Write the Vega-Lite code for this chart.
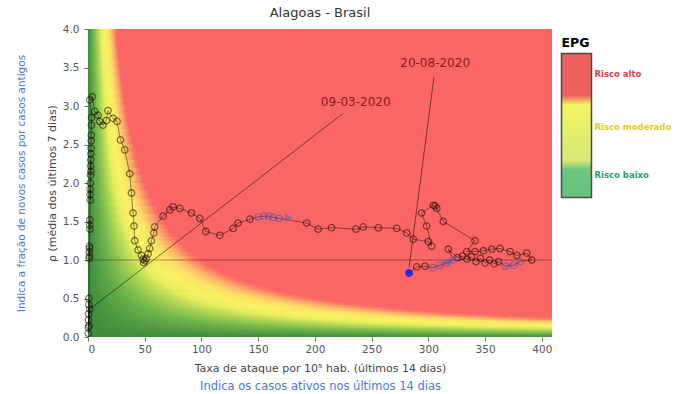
{
  "$schema": "https://vega.github.io/schema/vega-lite/v6.json",
  "width": 464,
  "height": 308,
  "autosize": {"type": "none"},
  "padding": {"left": 88, "top": 29, "right": 124, "bottom": 57},
  "title": {"text": "Alagoas - Brasil", "frame": "group", "anchor": "middle", "fontSize": 13, "fontWeight": "normal", "color": "#333333", "offset": 4, "font": "DejaVu Sans"},
  "config": {"font": "DejaVu Sans", "view": {"stroke": null, "fill": "#fa6565"}},
  "resolve": {"axis": {"x": "independent", "y": "independent"}},
  "datasets": {
    "bg": [
      {"lo":0.00,"hi":0.028,"xr":10000},{"lo":0.02,"hi":0.048,"xr":3333},{"lo":0.04,"hi":0.068,"xr":2000},{"lo":0.06,"hi":0.088,"xr":1429},
      {"lo":0.08,"hi":0.108,"xr":1111},{"lo":0.10,"hi":0.128,"xr":909.1},{"lo":0.12,"hi":0.148,"xr":769.2},{"lo":0.14,"hi":0.168,"xr":666.7},
      {"lo":0.16,"hi":0.188,"xr":588.2},{"lo":0.18,"hi":0.208,"xr":526.3},{"lo":0.20,"hi":0.228,"xr":476.2},{"lo":0.22,"hi":0.248,"xr":434.8},
      {"lo":0.24,"hi":0.268,"xr":400},{"lo":0.26,"hi":0.288,"xr":370.4},{"lo":0.28,"hi":0.308,"xr":344.8},{"lo":0.30,"hi":0.328,"xr":322.6},
      {"lo":0.32,"hi":0.348,"xr":303.0},{"lo":0.34,"hi":0.368,"xr":285.7},{"lo":0.36,"hi":0.388,"xr":270.3},{"lo":0.38,"hi":0.408,"xr":256.4},
      {"lo":0.40,"hi":0.428,"xr":243.9},{"lo":0.42,"hi":0.448,"xr":232.6},{"lo":0.44,"hi":0.468,"xr":222.2},{"lo":0.46,"hi":0.488,"xr":212.8},
      {"lo":0.48,"hi":0.508,"xr":204.1},
      {"lo":0.500,"hi":0.533,"xr":195.1},{"lo":0.525,"hi":0.558,"xr":186.0},{"lo":0.550,"hi":0.583,"xr":177.8},{"lo":0.575,"hi":0.608,"xr":170.2},
      {"lo":0.600,"hi":0.633,"xr":163.3},{"lo":0.625,"hi":0.658,"xr":156.9},{"lo":0.650,"hi":0.683,"xr":150.9},{"lo":0.675,"hi":0.708,"xr":145.5},
      {"lo":0.700,"hi":0.733,"xr":140.4},{"lo":0.725,"hi":0.758,"xr":135.6},{"lo":0.750,"hi":0.783,"xr":131.1},{"lo":0.775,"hi":0.808,"xr":127.0},
      {"lo":0.800,"hi":0.833,"xr":123.1},{"lo":0.825,"hi":0.858,"xr":119.4},{"lo":0.850,"hi":0.883,"xr":115.9},{"lo":0.875,"hi":0.908,"xr":112.7},
      {"lo":0.900,"hi":0.933,"xr":109.6},{"lo":0.925,"hi":0.958,"xr":106.7},{"lo":0.950,"hi":0.983,"xr":103.9},{"lo":0.975,"hi":1.008,"xr":101.3},
      {"lo":1.00,"hi":1.06,"xr":97.56},{"lo":1.05,"hi":1.11,"xr":93.02},{"lo":1.10,"hi":1.16,"xr":88.89},{"lo":1.15,"hi":1.21,"xr":85.11},
      {"lo":1.20,"hi":1.26,"xr":81.63},{"lo":1.25,"hi":1.31,"xr":78.43},{"lo":1.30,"hi":1.36,"xr":75.47},{"lo":1.35,"hi":1.41,"xr":72.73},
      {"lo":1.40,"hi":1.46,"xr":70.18},{"lo":1.45,"hi":1.51,"xr":67.80},
      {"lo":1.5,"hi":1.61,"xr":64.52},{"lo":1.6,"hi":1.71,"xr":60.61},{"lo":1.7,"hi":1.81,"xr":57.14},{"lo":1.8,"hi":1.91,"xr":54.05},
      {"lo":1.9,"hi":2.01,"xr":51.28},{"lo":2.0,"hi":2.11,"xr":48.78},{"lo":2.1,"hi":2.21,"xr":46.51},{"lo":2.2,"hi":2.31,"xr":44.44},
      {"lo":2.3,"hi":2.41,"xr":42.55},{"lo":2.4,"hi":2.51,"xr":40.82},{"lo":2.5,"hi":2.61,"xr":39.22},{"lo":2.6,"hi":2.71,"xr":37.74},
      {"lo":2.7,"hi":2.81,"xr":36.36},{"lo":2.8,"hi":2.91,"xr":35.09},{"lo":2.9,"hi":3.01,"xr":33.90},{"lo":3.0,"hi":3.11,"xr":32.79},
      {"lo":3.1,"hi":3.21,"xr":31.75},{"lo":3.2,"hi":3.31,"xr":30.77},{"lo":3.3,"hi":3.41,"xr":29.85},{"lo":3.4,"hi":3.51,"xr":28.99},
      {"lo":3.5,"hi":3.61,"xr":28.17},{"lo":3.6,"hi":3.71,"xr":27.40},{"lo":3.7,"hi":3.81,"xr":26.67},{"lo":3.8,"hi":3.91,"xr":25.97},
      {"lo":3.9,"hi":4.0,"xr":25.32}
    ],
    "traj": [
      {"i":1,"x":1.5,"y":0.36,"c":"k"},{"i":2,"x":0.3,"y":0.12,"c":"k"},{"i":3,"x":0.2,"y":0.05,"c":"k"},{"i":4,"x":0.4,"y":0.22,"c":"k"},
      {"i":5,"x":0.5,"y":0.30,"c":"k"},{"i":6,"x":0.7,"y":0.42,"c":"k"},{"i":7,"x":0.8,"y":0.50,"c":"k"},{"i":8,"x":0.9,"y":0.15,"c":"k"},
      {"i":9,"x":1.0,"y":1.02,"c":"k"},{"i":10,"x":1.1,"y":1.10,"c":"k"},{"i":11,"x":1.2,"y":1.18,"c":"k"},{"i":12,"x":1.3,"y":1.05,"c":"k"},
      {"i":13,"x":1.4,"y":1.15,"c":"k"},{"i":14,"x":1.5,"y":1.45,"c":"k"},{"i":15,"x":1.6,"y":1.52,"c":"k"},{"i":16,"x":1.7,"y":1.40,"c":"k"},
      {"i":17,"x":1.8,"y":1.85,"c":"k"},{"i":18,"x":1.9,"y":1.92,"c":"k"},{"i":19,"x":2.0,"y":1.78,"c":"k"},{"i":20,"x":2.1,"y":2.00,"c":"k"},
      {"i":21,"x":2.2,"y":2.10,"c":"k"},{"i":22,"x":2.3,"y":2.22,"c":"k"},{"i":23,"x":2.4,"y":2.30,"c":"k"},{"i":24,"x":2.5,"y":2.15,"c":"k"},
      {"i":25,"x":2.6,"y":2.38,"c":"k"},{"i":26,"x":2.7,"y":2.45,"c":"k"},{"i":27,"x":2.8,"y":2.55,"c":"k"},{"i":28,"x":2.9,"y":2.62,"c":"k"},
      {"i":29,"x":3.0,"y":2.75,"c":"k"},{"i":30,"x":3.1,"y":2.85,"c":"k"},{"i":31,"x":1.5,"y":3.08,"c":"k"},{"i":32,"x":3.9,"y":3.12,"c":"k"},
      {"i":33,"x":5.9,"y":2.93,"c":"k"},{"i":34,"x":8.8,"y":2.88,"c":"k"},{"i":35,"x":10.3,"y":2.80,"c":"k"},{"i":36,"x":13.2,"y":2.75,"c":"k"},
      {"i":37,"x":16.2,"y":2.81,"c":"k"},{"i":38,"x":17.6,"y":2.94,"c":"k"},{"i":39,"x":22.0,"y":2.84,"c":"k"},{"i":40,"x":25.6,"y":2.80,"c":"k"},
      {"i":41,"x":28.6,"y":2.56,"c":"k"},{"i":42,"x":32.4,"y":2.43,"c":"k"},{"i":43,"x":36.8,"y":2.12,"c":"k"},{"i":44,"x":38.3,"y":1.87,"c":"k"},
      {"i":45,"x":39.7,"y":1.61,"c":"k"},{"i":46,"x":40.6,"y":1.44,"c":"k"},{"i":47,"x":41.2,"y":1.25,"c":"k"},{"i":48,"x":44.1,"y":1.13,"c":"k"},
      {"i":49,"x":47.1,"y":1.06,"c":"k"},{"i":50,"x":48.5,"y":1.01,"c":"k"},{"i":51,"x":49.1,"y":0.965,"c":"k"},{"i":52,"x":50.2,"y":0.99,"c":"k"},
      {"i":53,"x":51.5,"y":1.02,"c":"k"},{"i":54,"x":52.9,"y":1.08,"c":"k"},{"i":55,"x":54.4,"y":1.15,"c":"k"},{"i":56,"x":55.9,"y":1.25,"c":"k"},
      {"i":57,"x":58.0,"y":1.35,"c":"k"},{"i":58,"x":58.8,"y":1.43,"c":"k"},{"i":59,"x":66.2,"y":1.57,"c":"k"},{"i":60,"x":72.1,"y":1.65,"c":"k"},
      {"i":61,"x":75.0,"y":1.69,"c":"k"},{"i":62,"x":80.9,"y":1.67,"c":"k"},{"i":63,"x":91.2,"y":1.61,"c":"k"},{"i":64,"x":98.5,"y":1.54,"c":"k"},
      {"i":65,"x":103.8,"y":1.37,"c":"k"},{"i":66,"x":116.2,"y":1.32,"c":"k"},{"i":67,"x":127.9,"y":1.41,"c":"k"},{"i":68,"x":132.3,"y":1.48,"c":"k"},
      {"i":69,"x":142.7,"y":1.53,"c":"k"},{"i":70,"x":150.0,"y":1.56,"c":"b"},{"i":71,"x":155.0,"y":1.57,"c":"b"},{"i":72,"x":159.4,"y":1.57,"c":"b"},
      {"i":73,"x":163.2,"y":1.55,"c":"b"},{"i":74,"x":168.5,"y":1.54,"c":"b"},{"i":75,"x":192.7,"y":1.48,"c":"k"},{"i":76,"x":202.9,"y":1.40,"c":"k"},
      {"i":77,"x":214.7,"y":1.42,"c":"k"},{"i":78,"x":236.2,"y":1.40,"c":"k"},{"i":79,"x":242.6,"y":1.43,"c":"k"},{"i":80,"x":255.9,"y":1.42,"c":"k"},
      {"i":81,"x":272.1,"y":1.41,"c":"k"},{"i":82,"x":281.0,"y":1.35,"c":"k"},{"i":83,"x":286.7,"y":1.27,"c":"k"},{"i":84,"x":300.0,"y":1.24,"c":"k"},
      {"i":85,"x":303.0,"y":1.18,"c":"k"},{"i":86,"x":298.5,"y":1.44,"c":"k"},{"i":87,"x":294.0,"y":1.61,"c":"k"},{"i":88,"x":304.4,"y":1.71,"c":"k"},
      {"i":89,"x":307.4,"y":1.67,"c":"k"},{"i":90,"x":306.0,"y":1.70,"c":"k"},{"i":91,"x":313.2,"y":1.50,"c":"k"},{"i":92,"x":341.1,"y":1.25,"c":"k"},
      {"i":93,"x":333.8,"y":1.11,"c":"k"},{"i":94,"x":341.1,"y":1.11,"c":"k"},{"i":95,"x":348.5,"y":1.12,"c":"k"},{"i":96,"x":355.9,"y":1.14,"c":"k"},
      {"i":97,"x":363.2,"y":1.15,"c":"k"},{"i":98,"x":372.0,"y":1.11,"c":"k"},{"i":99,"x":378.0,"y":1.06,"c":"k"},{"i":100,"x":386.8,"y":1.09,"c":"k"},
      {"i":101,"x":391.2,"y":1.00,"c":"k"},{"i":102,"x":380.9,"y":0.98,"c":"b"},{"i":103,"x":375.0,"y":0.93,"c":"b"},{"i":104,"x":368.0,"y":0.92,"c":"b"},
      {"i":105,"x":362.0,"y":0.98,"c":"k"},{"i":106,"x":358.0,"y":0.95,"c":"k"},{"i":107,"x":354.0,"y":1.00,"c":"k"},{"i":108,"x":350.0,"y":0.96,"c":"k"},
      {"i":109,"x":346.0,"y":1.02,"c":"k"},{"i":110,"x":342.0,"y":0.98,"c":"k"},{"i":111,"x":338.0,"y":1.04,"c":"k"},{"i":112,"x":334.0,"y":1.01,"c":"k"},
      {"i":113,"x":330.0,"y":1.05,"c":"k"},{"i":114,"x":326.0,"y":1.03,"c":"k"},{"i":115,"x":317.6,"y":1.14,"c":"k"},{"i":116,"x":322.0,"y":1.00,"c":"b"},
      {"i":117,"x":316.0,"y":0.96,"c":"b"},{"i":118,"x":310.0,"y":0.93,"c":"b"},{"i":119,"x":304.0,"y":0.90,"c":"b"},{"i":120,"x":297.0,"y":0.92,"c":"k"},
      {"i":121,"x":289.7,"y":0.91,"c":"k"},{"i":122,"x":283.0,"y":0.83,"c":"k"}
    ],
    "ann": [{"x":1.5,"y":0.36,"x2":224.5,"y2":2.9},{"x":283,"y":0.9,"x2":305,"y2":3.38}],
    "lab": [{"x":236,"y":3.05,"t":"09-03-2020"},{"x":306,"y":3.56,"t":"20-08-2020"}],
    "arr": [{"x":177,"y":1.55,"s":"triangle-right"},{"x":316,"y":0.975,"s":"triangle-left"}],
    "last": [{"x":283,"y":0.83}],
    "epg": [{"epg":-10,"p":0},{"epg":145,"p":0}],
    "one": [{"v":1}]
  },
  "layer": [
    {
      "data": {"name": "bg"},
      "mark": {"type": "rect", "clip": true, "fill": {"gradient": "linear", "x1": 0, "y1": 0, "x2": 1, "y2": 0, "stops": [
        {"offset": 0, "color": "#3b8c3b"},
        {"offset": 0.18, "color": "#6cb34a"},
        {"offset": 0.34, "color": "#aed654"},
        {"offset": 0.46, "color": "#e6ee5e"},
        {"offset": 0.58, "color": "#f8f264"},
        {"offset": 0.72, "color": "#fbe266"},
        {"offset": 0.84, "color": "#fcb469"},
        {"offset": 0.94, "color": "#fb8067"},
        {"offset": 1, "color": "#fa6565"}
      ]}},
      "encoding": {
        "x": {"field": "xr", "type": "quantitative", "scale": {"domain": [0, 409], "nice": false}, "axis": null},
        "x2": {"datum": 0},
        "y": {"field": "lo", "type": "quantitative", "scale": {"domain": [0, 4], "nice": false}, "axis": null},
        "y2": {"field": "hi"}
      }
    },
    {
      "data": {"name": "one"},
      "mark": {"type": "rule", "color": "#000000", "opacity": 0.35, "strokeWidth": 1},
      "encoding": {"y": {"field": "v", "type": "quantitative", "axis": null}}
    },
    {
      "data": {"name": "ann"},
      "mark": {"type": "rule", "color": "#000000", "opacity": 0.5, "strokeWidth": 1},
      "encoding": {
        "x": {"field": "x", "type": "quantitative", "axis": null},
        "y": {"field": "y", "type": "quantitative", "axis": null},
        "x2": {"field": "x2"},
        "y2": {"field": "y2"}
      }
    },
    {
      "data": {"name": "traj"},
      "mark": {"type": "line", "color": "#000000", "opacity": 0.55, "strokeWidth": 0.8},
      "encoding": {
        "order": {"field": "i", "type": "quantitative"},
        "x": {"field": "x", "type": "quantitative", "scale": {"domain": [0, 409], "nice": false},
          "axis": {"orient": "bottom", "title": "Taxa de ataque por 10⁵ hab. (últimos 14 dias)", "values": [0, 50, 100, 150, 200, 250, 300, 350, 400], "format": "d", "grid": false, "domain": false, "tickSize": 4, "tickColor": "#666666", "labelColor": "#555555", "labelFontSize": 10.5, "labelFont": "DejaVu Sans", "labelPadding": 3, "titleFont": "DejaVu Sans", "titleFontSize": 11, "titleFontWeight": "normal", "titleColor": "#444444", "titleY": 25}},
        "y": {"field": "y", "type": "quantitative", "scale": {"domain": [0, 4], "nice": false},
          "axis": {"orient": "left", "title": "ρ (média dos últimos 7 dias)", "values": [0, 0.5, 1, 1.5, 2, 2.5, 3, 3.5, 4], "format": ".1f", "grid": false, "domain": false, "tickSize": 4, "tickColor": "#666666", "labelColor": "#555555", "labelFontSize": 10.5, "labelFont": "DejaVu Sans", "labelPadding": 5, "titleFont": "DejaVu Sans", "titleFontSize": 11, "titleFontWeight": "normal", "titleColor": "#444444", "titleX": -31}}
      }
    },
    {
      "data": {"name": "traj"},
      "mark": {"type": "point", "shape": "circle", "filled": false, "size": 42, "strokeWidth": 1.3, "strokeOpacity": 0.72},
      "encoding": {
        "x": {"field": "x", "type": "quantitative",
          "axis": {"orient": "bottom", "title": "Indica os casos ativos nos últimos 14 dias", "labels": false, "ticks": false, "domain": false, "grid": false, "titleFont": "DejaVu Sans", "titleFontSize": 11.5, "titleFontWeight": "normal", "titleColor": "#4a78d0", "titleY": 43}},
        "y": {"field": "y", "type": "quantitative",
          "axis": {"orient": "left", "title": "Indica a fração de novos casos por casos antigos", "labels": false, "ticks": false, "domain": false, "grid": false, "titleFont": "DejaVu Sans", "titleFontSize": 10.5, "titleFontWeight": "normal", "titleColor": "#4a78d0", "titleX": -62}},
        "stroke": {"field": "c", "type": "nominal", "scale": {"domain": ["k", "b"], "range": ["#1a0000", "#3a58c0"]}, "legend": null}
      }
    },
    {
      "data": {"name": "arr"},
      "mark": {"type": "point", "filled": true, "size": 80, "color": "#4a68c8", "opacity": 0.55},
      "encoding": {
        "x": {"field": "x", "type": "quantitative", "axis": null},
        "y": {"field": "y", "type": "quantitative", "axis": null},
        "shape": {"field": "s", "type": "nominal", "scale": null}
      }
    },
    {
      "data": {"name": "last"},
      "mark": {"type": "point", "shape": "circle", "filled": true, "size": 50, "color": "#1a2cff", "opacity": 1},
      "encoding": {
        "x": {"field": "x", "type": "quantitative", "axis": null},
        "y": {"field": "y", "type": "quantitative", "axis": null}
      }
    },
    {
      "data": {"name": "lab"},
      "mark": {"type": "text", "align": "center", "baseline": "middle", "fontSize": 12, "font": "DejaVu Sans", "color": "#8a1c1c"},
      "encoding": {
        "x": {"field": "x", "type": "quantitative", "axis": null},
        "y": {"field": "y", "type": "quantitative", "axis": null},
        "text": {"field": "t"}
      }
    },
    {
      "data": {"name": "epg"},
      "mark": {"type": "point", "size": 0, "strokeWidth": 0},
      "encoding": {
        "x": {"field": "p", "type": "quantitative", "axis": null},
        "y": {"field": "p", "type": "quantitative", "axis": null},
        "color": {"field": "epg", "type": "quantitative",
          "scale": {"domain": [-10, 29.9, 30, 92, 100, 145], "range": ["#27a844", "#2db34a", "#c8e03a", "#f2ef1e", "#e51e1e", "#e51e1e"], "nice": false, "zero": false},
          "legend": {"title": "EPG", "orient": "none", "legendX": 473.5, "legendY": 8, "direction": "vertical", "gradientLength": 144, "gradientThickness": 30, "gradientStrokeColor": "#000000", "gradientStrokeWidth": 1.5, "titleFont": "DejaVu Sans", "titleFontSize": 12.5, "titleFontWeight": "bold", "titleColor": "#000000", "titlePadding": 4, "values": [13.7, 66.4, 123.4], "labelExpr": "datum.value > 100 ? 'Risco alto' : datum.value > 30 ? 'Risco moderado' : 'Risco baixo'", "labelFont": "DejaVu Sans", "labelFontSize": 8.5, "labelFontWeight": "bold", "labelOffset": 3, "labelOverlap": false, "labelLimit": 200,
            "labelColor": {"expr": "datum.value > 100 ? '#e83a4a' : datum.value > 30 ? '#e3cc1c' : '#2a9d68'"}}
        }
      }
    }
  ]
}
